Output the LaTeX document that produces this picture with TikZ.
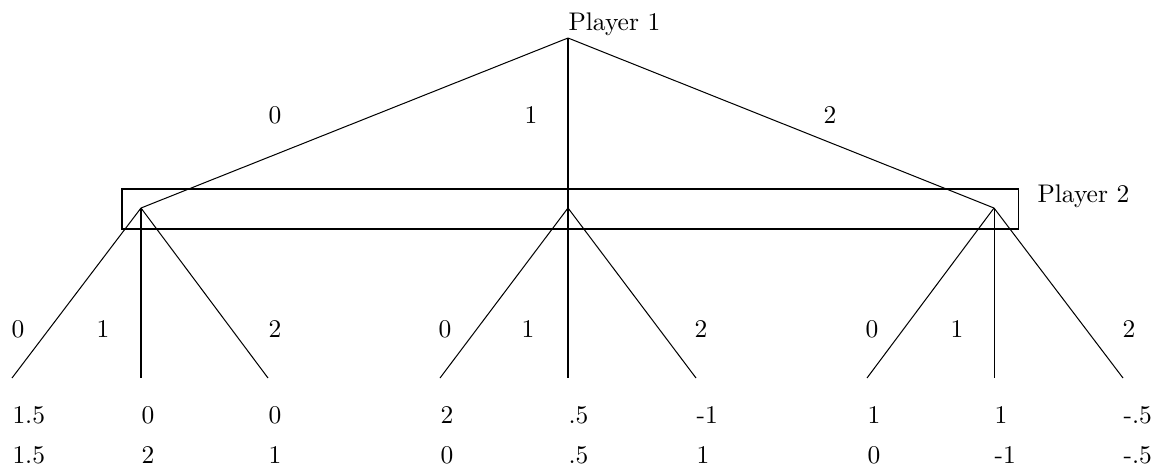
\documentclass[tikz,border=0pt]{standalone}
\begin{document}
\begin{tikzpicture}[x=0.0138cm,y=-0.0138cm,
  lbl/.style={inner sep=0,anchor=base},
  pay/.style={inner sep=0,anchor=base west},
  infoset/.style={draw}]
\useasboundingbox (0,0) rectangle (1154,466);
% decision nodes
\coordinate (r) at (568,38);
\coordinate (a) at (141,208);
\coordinate (b) at (568,208);
\coordinate (c) at (994,208);
% leaves
\coordinate (a1) at (12,378);
\coordinate (a2) at (141,378);
\coordinate (a3) at (268,378);
\coordinate (b1) at (440,378);
\coordinate (b2) at (568,378);
\coordinate (b3) at (696,378);
\coordinate (c1) at (867,378);
\coordinate (c2) at (994,378);
\coordinate (c3) at (1123,378);
% player labels
\node[pay] (p1) at (568,30) {Player 1};
\node[pay] (p2) at (1037,202) {Player 2};
% information set
\draw[infoset] (122,189) rectangle (1018,229);
% edges
\draw (r) -- (a);
\draw (r) -- (b);
\draw (r) -- (c);
\foreach \n in {a,b,c}{
  \draw (\n) -- (\n1);
  \draw (\n) -- (\n2);
  \draw (\n) -- (\n3);
}
% top action labels
\node[lbl] (t0) at (275,123) {0};
\node[lbl] (t1) at (531,123) {1};
\node[lbl] (t2) at (830,123) {2};
% bottom action labels
\node[lbl] (la0) at (18,337) {0};
\node[lbl] (la1) at (103,337) {1};
\node[lbl] (la2) at (275,337) {2};
\node[lbl] (lb0) at (445,337) {0};
\node[lbl] (lb1) at (528,337) {1};
\node[lbl] (lb2) at (701,337) {2};
\node[lbl] (lc0) at (872,337) {0};
\node[lbl] (lc1) at (957,337) {1};
\node[lbl] (lc2) at (1129,337) {2};
% payoffs
\node[pay] (pa1) at (a1 |- 0,423) {1.5};
\node[pay] (qa1) at (a1 |- 0,463) {1.5};
\node[pay] (pa2) at (a2 |- 0,423) {0};
\node[pay] (qa2) at (a2 |- 0,463) {2};
\node[pay] (pa3) at (a3 |- 0,423) {0};
\node[pay] (qa3) at (a3 |- 0,463) {1};
\node[pay] (pb1) at (b1 |- 0,423) {2};
\node[pay] (qb1) at (b1 |- 0,463) {0};
\node[pay] (pb2) at (b2 |- 0,423) {.5};
\node[pay] (qb2) at (b2 |- 0,463) {.5};
\node[pay] (pb3) at (b3 |- 0,423) {-1};
\node[pay] (qb3) at (b3 |- 0,463) {1};
\node[pay] (pc1) at (c1 |- 0,423) {1};
\node[pay] (qc1) at (c1 |- 0,463) {0};
\node[pay] (pc2) at (c2 |- 0,423) {1};
\node[pay] (qc2) at (c2 |- 0,463) {-1};
\node[pay] (pc3) at (c3 |- 0,423) {-.5};
\node[pay] (qc3) at (c3 |- 0,463) {-.5};
\end{tikzpicture}
\end{document}
